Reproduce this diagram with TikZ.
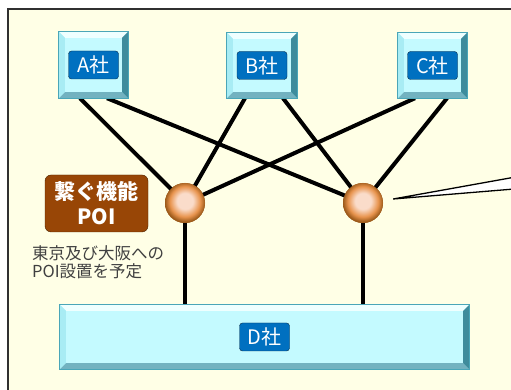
\documentclass[tikz,border=0pt]{standalone}
\usepackage{fontspec}
\newfontfamily\jp{Noto Sans CJK JP}
\usetikzlibrary{calc}
\definecolor{bgc}{HTML}{FFFFE6}
\definecolor{framec}{HTML}{303030}
\definecolor{boxface}{HTML}{C4FAFF}
\definecolor{boxedge}{HTML}{4AA6B8}
\definecolor{bevtop}{HTML}{EEFFFF}
\definecolor{bevleft}{HTML}{A8ECF4}
\definecolor{bevright}{HTML}{3E8C9C}
\definecolor{bevbot}{HTML}{72B2C0}
\definecolor{tagblue}{HTML}{0070C0}
\definecolor{tagedge}{HTML}{0A2E4A}
\definecolor{poibrown}{HTML}{984606}
\definecolor{poiedge}{HTML}{4A2200}
\definecolor{hubin}{HTML}{FADCCA}
\definecolor{hubmid}{HTML}{E8944E}
\definecolor{hubrim}{HTML}{9C5A1A}
\definecolor{notegray}{HTML}{404040}
\pgfdeclareradialshading{hubball}{\pgfpoint{0bp}{3bp}}{color(0bp)=(hubin); color(10bp)=(hubin); color(19bp)=(hubmid); color(25bp)=(hubrim); color(50bp)=(hubrim)}
% bevelled edges of a company box: node, depth
\newcommand{\bevel}[2]{
	\fill[bevtop] (#1.north west) -- (#1.north east) -- ([shift={(-#2,-#2)}]#1.north east) -- ([shift={(#2,-#2)}]#1.north west) -- cycle;
	\fill[bevbot] (#1.south west) -- (#1.south east) -- ([shift={(-#2,#2)}]#1.south east) -- ([shift={(#2,#2)}]#1.south west) -- cycle;
	\fill[bevleft] (#1.north west) -- (#1.south west) -- ([shift={(#2,#2)}]#1.south west) -- ([shift={(#2,-#2)}]#1.north west) -- cycle;
	\fill[bevright] (#1.north east) -- (#1.south east) -- ([shift={(-#2,#2)}]#1.south east) -- ([shift={(-#2,-#2)}]#1.north east) -- cycle;
	\draw[boxedge, line width=1pt] (#1.north west) rectangle (#1.south east);
}
\begin{document}
\begin{tikzpicture}[x=1pt, y=1pt,
		company/.style={fill=boxface, inner sep=0pt},
		tag/.style={draw=tagedge, fill=tagblue, rounded corners=3pt, text=white, inner sep=0pt,
				minimum width=50pt, minimum height=28pt, font=\jp\fontsize{20}{20}\selectfont},
		hub/.style={circle, minimum size=40pt, inner sep=0pt, shading=hubball},
		link/.style={line width=4pt}]
	\useasboundingbox (0,0) rectangle (511,390);
	\clip (0,0) rectangle (511,390);
	\fill[white] (0,0) rectangle (511,390);
	\draw[framec, line width=1.8pt, fill=bgc] (8,381) rectangle (540,-30);

	% companies
	\node[company, minimum width=69pt, minimum height=66pt] (A) at (93.5,325) {};
	\node[company, minimum width=70pt, minimum height=65pt] (B) at (262,324.5) {};
	\node[company, minimum width=69pt, minimum height=65pt] (C) at (432.5,324.5) {};
	\node[company, minimum width=409pt, minimum height=64pt] (D) at (264.5,53) {};

	% POI hubs
	\node[hub] (L) at (185,187) {};
	\node[hub] (R) at (363,187) {};

	\draw[link] ([xshift=-13.5pt]A.south) -- (L.center);
	\draw[link] ([xshift=13.5pt]A.south) -- (R.center);
	\draw[link] ([xshift=-17pt]B.south) -- (L.center);
	\draw[link] ([xshift=21pt]B.south) -- (R.center);
	\draw[link] ([xshift=-17.5pt]C.south) -- (L.center);
	\draw[link] ([xshift=14.5pt]C.south) -- (R.center);
	\draw[link] (L.center) -- (L |- D.north);
	\draw[link] (R.center) -- (R |- D.north);

	\foreach \n in {A,B,C,D} {\bevel{\n}{6}}
	\node[hub] at (L) {};
	\node[hub] at (R) {};

	\node[tag] (At) at (A) {A社};
	\node[tag] (Bt) at (B) {B社};
	\node[tag] (Ct) at (C) {C社};
	\node[tag] (Dt) at (D) {D社};

	% POI label and note
	\node[draw=poiedge, fill=poibrown, rounded corners=6pt, text=white, align=center,
		minimum width=103pt, minimum height=57pt, inner sep=0pt,
		font=\jp\bfseries\fontsize{21}{25}\selectfont] (poi) at (96.5,186.5) {繋ぐ機能\\POI};
	\node[anchor=north west, text=notegray, align=left, inner sep=0pt,
		font=\jp\fontsize{16.5}{18.5}\selectfont] (note) at (32,145) {東京及び大阪への\\POI設置を予定};

	% callout pointer
	\coordinate (tip) at ([xshift=10pt,yshift=4pt]R.east);
	\filldraw[fill=white, draw=black, line width=1.3pt] (tip) -- (530,215.6) -- (530,202.3) -- cycle;
\end{tikzpicture}
\end{document}
